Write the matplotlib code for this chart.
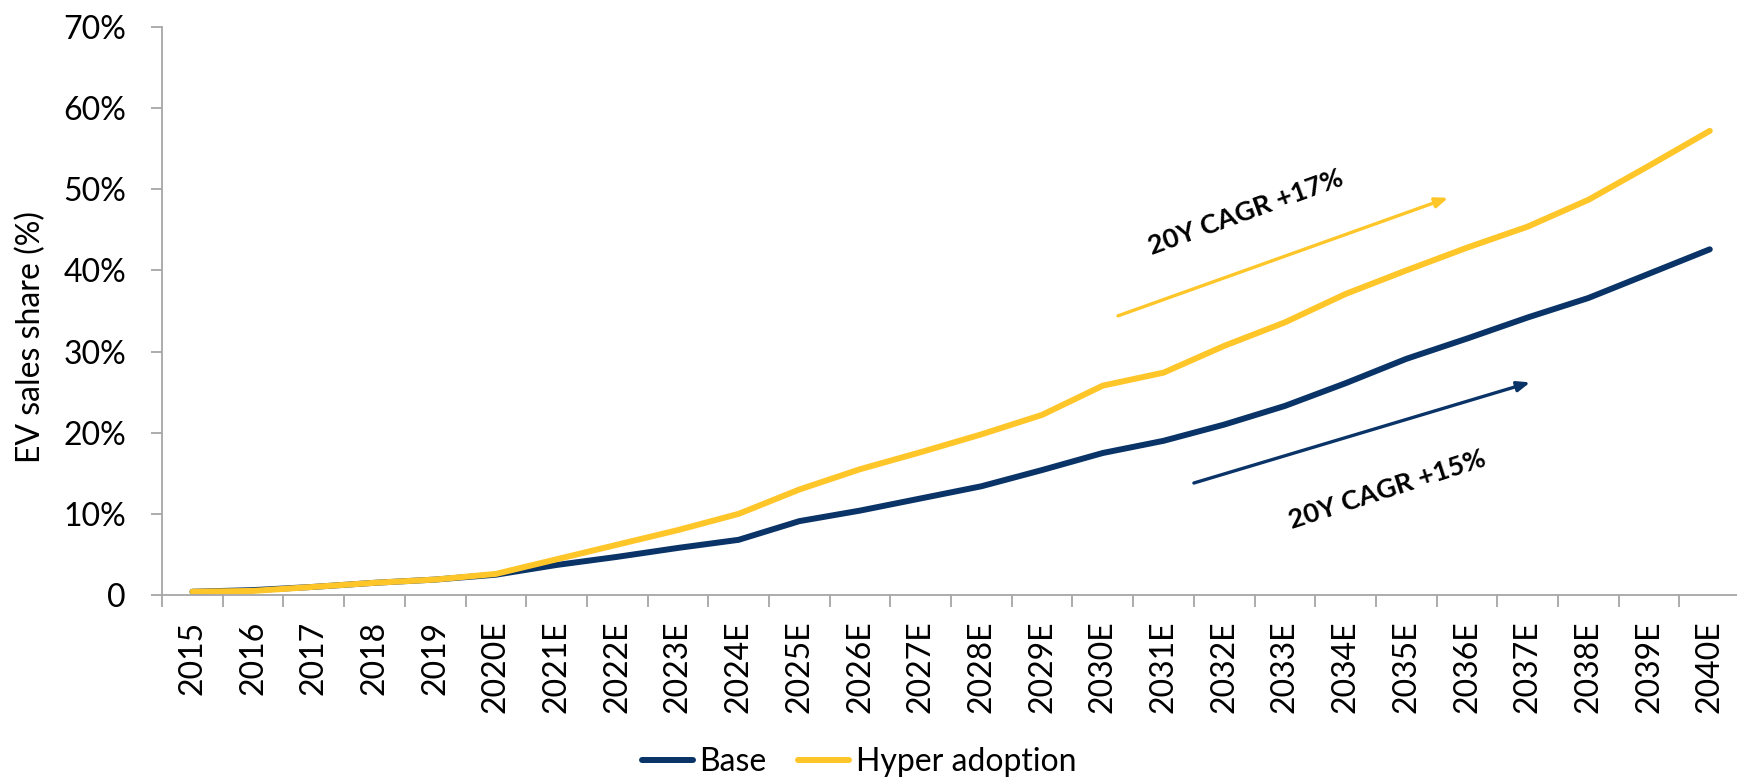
import numpy as np
import matplotlib as mpl
import matplotlib.pyplot as plt

mpl.use("Agg")
plt.rcParams['font.family'] = ['Lato', 'DejaVu Sans']

years = ["2015", "2016", "2017", "2018", "2019", "2020E", "2021E", "2022E", "2023E",
         "2024E", "2025E", "2026E", "2027E", "2028E", "2029E", "2030E", "2031E", "2032E",
         "2033E", "2034E", "2035E", "2036E", "2037E", "2038E", "2039E", "2040E"]
base = [0.4, 0.6, 1.0, 1.5, 1.9, 2.5, 3.7, 4.7, 5.8, 6.8, 9.1, 10.4, 11.9, 13.4, 15.4,
        17.5, 19.0, 21.0, 23.3, 26.1, 29.1, 31.6, 34.2, 36.6, 39.6, 42.6]
hyper = [0.4, 0.5, 1.0, 1.5, 1.9, 2.6, 4.4, 6.2, 8.0, 10.0, 13.0, 15.5, 17.6, 19.8, 22.2,
         25.8, 27.4, 30.7, 33.6, 37.1, 40.0, 42.8, 45.4, 48.7, 52.9, 57.2]
yticks = [0, 10, 20, 30, 40, 50, 60, 70]
ytick_labels = ["0", "10%", "20%", "30%", "40%", "50%", "60%", "70%"]

navy = "#0A3467"
gold = "#FFC629"
grey = "#A6A6A6"

fig = plt.figure(figsize=(17.37, 7.8), dpi=100)
ax = fig.add_axes([0.0933, 0.2372, 0.9085, 0.7282])

x = np.arange(len(years))
ax.plot(x, base, color=navy, lw=4.3, label="Base", solid_capstyle="round")
ax.plot(x, hyper, color=gold, lw=4.3, label="Hyper adoption", solid_capstyle="round")

# CAGR arrows + labels
arrow_style = "-|>,head_length=0.75,head_width=0.3"
ax.annotate("", xy=(20.69, 48.95), xytext=(15.25, 34.4),
            arrowprops=dict(arrowstyle=arrow_style, color=gold, lw=2.4, shrinkA=0, shrinkB=0))
ax.annotate("", xy=(22.04, 26.2), xytext=(16.5, 13.8),
            arrowprops=dict(arrowstyle=arrow_style, color=navy, lw=2.4, shrinkA=0, shrinkB=0))
ax.text(17.36, 47.2, "20Y CAGR +17%", rotation=20, ha="center", va="center",
        fontsize=19.5, fontweight="bold", color="black")
ax.text(19.68, 13.0, "20Y CAGR +15%", rotation=18, ha="center", va="center",
        fontsize=19.5, fontweight="bold", color="black")

ax.set_xlim(-0.5, len(years) - 0.5)
ax.set_ylim(0, 70)
ax.set_yticks(yticks)
ax.set_yticklabels(ytick_labels)
ax.set_xticks(x)
ax.set_xticklabels(years, rotation=90)
ax.set_xticks(np.arange(len(years) + 1) - 0.5, minor=True)
ax.tick_params(axis="x", which="major", length=0, pad=18.5, labelsize=23)
ax.tick_params(axis="x", which="minor", length=8.6, color=grey, width=1.3)
ax.tick_params(axis="y", length=8, color=grey, width=1.3, labelsize=23, pad=18)
ax.set_ylabel("EV sales share (%)", fontsize=23, va="center")
ax.yaxis.set_label_coords(-0.083, 0.454)

for s in ["top", "right"]:
    ax.spines[s].set_visible(False)
for s in ["left", "bottom"]:
    ax.spines[s].set_color(grey)
    ax.spines[s].set_linewidth(1.3)

fig.legend(loc="center", bbox_to_anchor=(0.4945, 0.023), ncol=2, frameon=False,
           fontsize=23, handlelength=1.6, handletextpad=0.2, columnspacing=1.0,
           borderaxespad=0, borderpad=0)

fig.savefig("out.png", dpi=100)
